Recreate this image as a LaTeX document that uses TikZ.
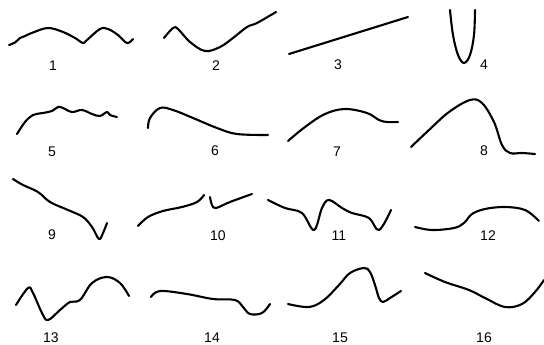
\documentclass[tikz,border=0pt]{standalone}
\usepackage{fontspec}
\setmainfont{Liberation Sans}
\begin{document}
\begin{tikzpicture}[x=1pt,y=-1pt,
  curve/.style={line width=2.1pt,line cap=round,line join=round},
  lbl/.style={font=\fontsize{14}{16}\selectfont,inner sep=0pt}]
\useasboundingbox (0,0) rectangle (544,345);
% row 1
\draw[curve] plot[smooth,tension=0.6] coordinates {(9,45) (15,42.5) (20,38) (25,36) (33,32.5) (48,28) (63,32) (75,38) (83,43) (87,40) (100,29) (108,29) (118,35) (127,43) (133,39)};
\node[lbl] (l1) at (53,66) {1};
\draw[curve] plot[smooth,tension=0.6] coordinates {(164,38) (173,28) (178,29) (190,42) (205,51) (220,47) (233,38) (247,27) (257,23) (276,12)};
\node[lbl] (l2) at (216,66) {2};
\draw[curve] (289,54) -- (408,17);
\node[lbl] (l3) at (338,65) {3};
\draw[curve] plot[smooth,tension=0.6] coordinates {(450,10) (453,35) (458,55) (464,63) (470,55) (474,35) (475,10)};
\node[lbl] (l4) at (484,65) {4};
% row 2
\draw[curve] plot[smooth,tension=0.6] coordinates {(17,134) (25,122) (33,115) (43,113) (52,111) (58,107) (63,108) (72,112) (82,110) (92,114) (100,116) (107,112) (110,115) (117,117)};
\node[lbl] (l5) at (52,152) {5};
\draw[curve] plot[smooth,tension=0.6] coordinates {(148,128) (150,118) (160,108) (173,110) (193,118) (217,128) (237,134) (268,135)};
\node[lbl] (l6) at (215,151) {6};
\draw[curve] plot[smooth,tension=0.6] coordinates {(288,141) (305,127) (325,114) (345,109) (367,113) (379,120) (387,122) (398,122)};
\node[lbl] (l7) at (337,152) {7};
\draw[curve] plot[smooth,tension=0.6] coordinates {(411,147) (429,130) (449,112) (470,100) (482,103) (494,122) (502,145) (510,153) (522,153) (535,154)};
\node[lbl] (l8) at (484,151) {8};
% row 3
\draw[curve] plot[smooth,tension=0.6] coordinates {(13,179) (23,185) (38,192) (50,202) (68,210) (83,217) (92,227) (99,239) (103,233) (107,223)};
\node[lbl] (l9) at (52,235) {9};
\draw[curve] plot[smooth,tension=0.6] coordinates {(138,226) (148,217) (163,211) (182,207) (197,202) (204,195)};
\draw[curve] plot[smooth,tension=0.6] coordinates {(210,197) (212,205) (216,208) (230,202) (252,194)};
\node[lbl] (l10) at (218,236) {10};
\draw[curve] plot[smooth,tension=0.6] coordinates {(268,200) (285,208) (302,213) (314,230) (322,208) (329,200) (342,208) (352,213) (369,218) (379,230) (391,210)};
\node[lbl] (l11) at (339,236) {11};
\draw[curve] plot[smooth,tension=0.6] coordinates {(415,227) (432,230) (454,228) (464,223) (472,214) (485,209) (505,207) (525,210) (539,221)};
\node[lbl] (l12) at (488,236) {12};
% row 4
\draw[curve] plot[smooth,tension=0.6] coordinates {(16,305) (28,288) (33,293) (42,313) (48,320) (60,310) (70,302) (80,300) (92,283) (107,277) (120,283) (129,296)};
\node[lbl] (l13) at (51,337.5) {13};
\draw[curve] plot[smooth,tension=0.6] coordinates {(151,297) (160,291) (187,294) (213,299) (235,300) (243,307) (250,314) (262,313) (270,304)};
\node[lbl] (l14) at (212,337.5) {14};
\draw[curve] plot[smooth,tension=0.6] coordinates {(288,304) (309,307) (324,300) (339,285) (350,273) (364,268) (370,272) (375,285) (379,298) (383,302) (390,298) (401,291)};
\node[lbl] (l15) at (340,337.5) {15};
\draw[curve] plot[smooth,tension=0.6] coordinates {(425,273) (445,282) (469,290) (485,298) (505,307) (522,304) (535,292) (544,280)};
\node[lbl] (l16) at (484,337.5) {16};
\end{tikzpicture}
\end{document}
